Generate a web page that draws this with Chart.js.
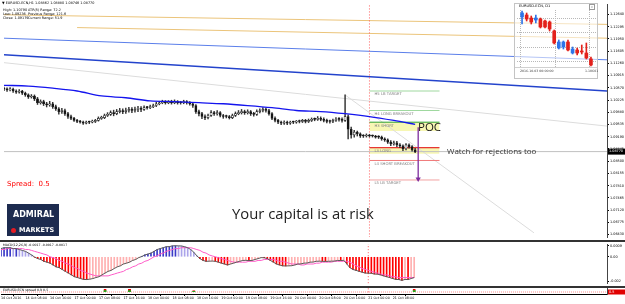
<!DOCTYPE html>
<html>
<head>
<meta charset="utf-8">
<script src="https://cdn.jsdelivr.net/npm/chart.js@4.4.1/dist/chart.umd.min.js"></script>
<style>
  body { margin:0; width:625px; height:304px; overflow:hidden; background:#fff; position:relative; font-family:"DejaVu Sans", sans-serif; }
  canvas, .t, .box { position:absolute; }
  .t { white-space:nowrap; line-height:1; color:#000; }
</style>
</head>
<body>
<canvas id="main" width="625" height="241" style="left:0;top:0"></canvas>
<canvas id="macd" width="625" height="46" style="left:0;top:241px"></canvas>
<canvas id="spread" width="625" height="17" style="left:0;top:287px"></canvas>
<div class="box" style="left:0;top:240px;width:625px;height:2px;background:#333"></div>
<div class="box" style="left:0;top:286px;width:625px;height:1.5px;background:#333"></div>

<!-- D1 mini window -->
<div class="box" style="left:514px;top:3px;width:82px;height:74px;border:1px solid #c4c4c4;background:rgba(255,255,255,0.55)"></div>
<div class="box" style="left:515px;top:67px;width:82px;height:1px;background:#d0d0d0"></div>
<canvas id="inset" width="79" height="57" style="left:517px;top:10px"></canvas>
<div class="t" style="left:519px;top:4.5px;font-size:3.6px">EURUSD-ECN, D1</div>
<div class="box" style="left:589px;top:4px;width:4px;height:4px;border:0.5px solid #999;font-size:3px;line-height:4px;text-align:center;color:#666">x</div>
<div class="t" style="left:520px;top:70px;font-size:3.2px;color:#444">2016.10.03 00:00:00</div>
<div class="t" style="left:585px;top:70px;font-size:3.2px;color:#444">1.10601</div>

<!-- header -->
<div class="t" style="left:2px;top:2px;font-size:3.4px">&#9660; EURUSD-ECN,H1 1.08862 1.08880 1.08746 1.08770</div>
<div class="t" style="left:3px;top:9px;font-size:3.4px">High: 1.10790</div>
<div class="t" style="left:28px;top:9px;font-size:3.4px">ATR(5) Range: 72.2</div>
<div class="t" style="left:3px;top:13px;font-size:3.4px">Low: 1.09236</div>
<div class="t" style="left:28px;top:13px;font-size:3.4px">Previous Range: 121.6</div>
<div class="t" style="left:3px;top:17px;font-size:3.4px">Close: 1.09179</div>
<div class="t" style="left:28px;top:17px;font-size:3.4px">Current Range: 51.9</div>

<div class="t" style="left:418px;top:121px;font-size:11.5px;font-family:'Open Sans';color:#1a1a1a">POC</div>
<div class="t" style="left:447px;top:147px;font-size:8px;font-family:'Open Sans';color:#333">Watch for rejections too</div>
<div class="t" style="left:232px;top:206px;font-size:14.8px;font-family:'Open Sans';color:#222">Your capital is at risk</div>
<div class="t" style="left:7px;top:181px;font-size:7px;color:#f00">Spread:&nbsp; 0.5</div>

<div class="box" style="left:7px;top:204px;width:52px;height:32px;background:#1d2b4f"></div>
<div class="t" style="left:13px;top:211px;font-size:8px;font-weight:bold;color:#fff">ADMIRAL</div>
<div class="box" style="left:11px;top:228px;width:5px;height:5px;border-radius:50%;background:#e31b23"></div>
<div class="t" style="left:19px;top:227px;font-size:6.5px;font-weight:bold;color:#fff">MARKETS</div>

<div class="t" style="left:3px;top:243.5px;font-size:3.2px">MACD(12,26,9) -0.0017 -0.0017 -0.0017</div>
<div class="t" style="left:3px;top:288.5px;font-size:3.2px">EURUSD-ECN spread 0.9 0.5</div>

<script>
// price scale labels (right axis)
const priceTicks = [1.12640, 1.12295, 1.11950, 1.11605, 1.11260, 1.10915, 1.10570, 1.10225, 1.09880,
  1.09535, 1.09190, 1.08845, 1.08500, 1.08155, 1.07810, 1.07465, 1.07120, 1.06775, 1.06430];

// time axis
const timeLabels = ['14 Oct 2016', '14 Oct 08:00', '14 Oct 16:00', '17 Oct 00:00', '17 Oct 08:00', '17 Oct 16:00',
  '18 Oct 00:00', '18 Oct 08:00', '18 Oct 16:00', '19 Oct 00:00', '19 Oct 08:00', '19 Oct 16:00',
  '20 Oct 00:00', '20 Oct 08:00', '20 Oct 16:00', '21 Oct 00:00', '21 Oct 08:00'];
const timeTickIdx = [0, 8, 16, 24, 32, 40, 48, 56, 64, 72, 80, 88, 96, 104, 112, 120, 128];
const lastSlot = 198;   // empty space to the right of the last bar
const daySep = 120;     // 21 Oct 00:00

// H1 candles
const firstOpen = 1.1055;
const closes = [
  1.1053, 1.1051, 1.1053, 1.1048, 1.1045, 1.1048, 1.1042, 1.1037,
  1.1031, 1.1034, 1.1026, 1.1015, 1.1018, 1.1012, 1.1009, 1.1012,
  1.1004, 1.0998, 1.0990, 1.0993, 1.0984, 1.0976, 1.0971, 1.0965,
  1.0962, 1.0960, 1.0957, 1.0960, 1.0960, 1.0962, 1.0965, 1.0971,
  1.0973, 1.0979, 1.0982, 1.0987, 1.0984, 1.0990, 1.0993, 1.0990,
  1.0993, 1.0996, 1.0993, 1.0996, 1.0998, 1.0996, 1.1001, 1.1001,
  1.1004, 1.1007, 1.1012, 1.1015, 1.1018, 1.1015, 1.1018, 1.1015,
  1.1018, 1.1015, 1.1015, 1.1018, 1.1015, 1.1012, 1.1007, 1.0990,
  1.0984, 1.0976, 1.0973, 1.0979, 1.0987, 1.0984, 1.0987, 1.0979,
  1.0976, 1.0976, 1.0973, 1.0979, 1.0984, 1.0987, 1.0990, 1.0987,
  1.0990, 1.0984, 1.0982, 1.0990, 1.0993, 1.0996, 1.0993, 1.0984,
  1.0971, 1.0965, 1.0960, 1.0957, 1.0960, 1.0957, 1.0960, 1.0960,
  1.0962, 1.0962, 1.0965, 1.0962, 1.0965, 1.0968, 1.0968, 1.0971,
  1.0968, 1.0965, 1.0962, 1.0962, 1.0965, 1.0968, 1.0968, 1.0965,
  1.0976, 1.0940, 1.0924, 1.0932, 1.0927, 1.0921, 1.0921, 1.0924,
  1.0921, 1.0921, 1.0918, 1.0918, 1.0913, 1.0910, 1.0904, 1.0899,
  1.0902, 1.0896, 1.0893, 1.0885, 1.0896, 1.0891, 1.0882, 1.0877];
const highs = [
  1.1059, 1.1057, 1.1058, 1.1056, 1.1051, 1.1052, 1.1050, 1.1045,
  1.1040, 1.1038, 1.1037, 1.1030, 1.1023, 1.1022, 1.1016, 1.1019,
  1.1016, 1.1008, 1.1001, 1.0999, 1.0997, 1.0988, 1.0980, 1.0974,
  1.0968, 1.0965, 1.0963, 1.0963, 1.0963, 1.0966, 1.0968, 1.0975,
  1.0977, 1.0983, 1.0987, 1.0992, 1.0994, 1.0996, 1.0999, 1.0998,
  1.1000, 1.1002, 1.1001, 1.1003, 1.1005, 1.1004, 1.1006, 1.1005,
  1.1008, 1.1011, 1.1016, 1.1019, 1.1022, 1.1021, 1.1021, 1.1022,
  1.1023, 1.1021, 1.1019, 1.1022, 1.1021, 1.1018, 1.1015, 1.1010,
  1.0994, 1.0988, 1.0981, 1.0983, 1.0993, 1.0991, 1.0993, 1.0990,
  1.0982, 1.0980, 1.0979, 1.0983, 1.0989, 1.0993, 1.0996, 1.0994,
  1.0995, 1.0993, 1.0988, 1.0995, 1.0998, 1.1001, 1.1000, 1.0996,
  1.0987, 1.0975, 1.0968, 1.0963, 1.0964, 1.0963, 1.0963, 1.0963,
  1.0965, 1.0966, 1.0968, 1.0968, 1.0969, 1.0972, 1.0972, 1.0976,
  1.0975, 1.0972, 1.0969, 1.0966, 1.0969, 1.0973, 1.0973, 1.0972,
  1.1037, 1.0981, 1.0946, 1.0937, 1.0935, 1.0930, 1.0925, 1.0927,
  1.0926, 1.0924, 1.0923, 1.0922, 1.0921, 1.0916, 1.0913, 1.0908,
  1.0907, 1.0906, 1.0900, 1.0896, 1.0900, 1.0899, 1.0894, 1.0886];
const lows = [
  1.1049, 1.1047, 1.1048, 1.1044, 1.1041, 1.1042, 1.1038, 1.1033,
  1.1027, 1.1028, 1.1021, 1.1010, 1.1011, 1.1007, 1.1003, 1.1005,
  1.0999, 1.0993, 1.0983, 1.0985, 1.0979, 1.0971, 1.0967, 1.0962,
  1.0959, 1.0957, 1.0954, 1.0955, 1.0956, 1.0958, 1.0959, 1.0963,
  1.0968, 1.0970, 1.0976, 1.0979, 1.0978, 1.0981, 1.0986, 1.0984,
  1.0985, 1.0988, 1.0987, 1.0988, 1.0990, 1.0990, 1.0993, 1.0997,
  1.0998, 1.1001, 1.1004, 1.1009, 1.1012, 1.1011, 1.1012, 1.1011,
  1.1012, 1.1011, 1.1011, 1.1012, 1.1011, 1.1008, 1.1002, 1.0985,
  1.0978, 1.0970, 1.0967, 1.0969, 1.0976, 1.0979, 1.0980, 1.0975,
  1.0971, 1.0972, 1.0969, 1.0970, 1.0976, 1.0981, 1.0983, 1.0982,
  1.0983, 1.0979, 1.0977, 1.0979, 1.0986, 1.0989, 1.0988, 1.0980,
  1.0967, 1.0961, 1.0956, 1.0953, 1.0954, 1.0953, 1.0954, 1.0956,
  1.0957, 1.0958, 1.0959, 1.0958, 1.0959, 1.0962, 1.0964, 1.0965,
  1.0964, 1.0961, 1.0958, 1.0957, 1.0959, 1.0962, 1.0963, 1.0960,
  1.0962, 1.0913, 1.0915, 1.0918, 1.0921, 1.0917, 1.0917, 1.0918,
  1.0918, 1.0918, 1.0915, 1.0914, 1.0909, 1.0906, 1.0900, 1.0894,
  1.0895, 1.0891, 1.0888, 1.0880, 1.0882, 1.0887, 1.0878, 1.0874];

// moving average over the candles
const maIdx = [0, 8, 16, 24, 32, 40, 48, 56, 64, 72, 80, 88, 96, 104, 112, 120, 128, 135];
const maVals = [1.1064, 1.1062, 1.1056, 1.1048, 1.1034, 1.1029, 1.1020, 1.1018, 1.1015,
  1.1012, 1.1007, 1.1001, 1.0993, 1.0990, 1.0984, 1.0976, 1.0965, 1.0954];

// trend lines drawn on the chart
const trendFrom = [0, 24, 0, 0, 0, 112];
const trendTo = [198, 198, 198, 198, 198, 174];
const trendStart = [1.1263, 1.1227, 1.1197, 1.1150, 1.1128, 1.1037];
const trendEnd = [1.1236, 1.1197, 1.1136, 1.1048, 1.0949, 1.0648];
const trendColors = ['#ebc47a', '#ebc47a', '#5b7fea', '#2343cc', '#dcdcdc', '#dcdcdc'];
const trendWidths = [1, 1, 1, 1.5, 1, 1];

// daily levels
const pivotNames = ['H5 LB TARGET', 'H4 LONG BREAKOUT', 'H3 SHORT', 'L3 LONG', 'L4 SHORT BREAKOUT', 'L5 LB TARGET'];
const pivotVals = [1.1048, 1.0993, 1.0960, 1.0888, 1.0852, 1.0797];
const pivotColors = ['#9fd89f', '#9fd89f', '#2ca02c', '#e00000', '#f07a7a', '#f2a2a2'];
const pivotFrom = 120, pivotTo = 143;
const bandTop = [1.0960, 1.0888];
const bandBottom = [1.0935, 1.0871];
const pocValue = 1.0946, arrowTarget = 1.0800, arrowIdx = 136;

// MACD(12,26,9)
const macd = [
  0.00067, 0.00074, 0.00074, 0.00074, 0.00067, 0.00067, 0.00059, 0.00052,
  0.00044, 0.00030, 0.00015, -0.00003, -0.00015, -0.00022, -0.00037, -0.00044,
  -0.00052, -0.00067, -0.00082, -0.00089, -0.00104, -0.00119, -0.00133, -0.00148,
  -0.00163, -0.00170, -0.00178, -0.00185, -0.00186, -0.00183, -0.00178, -0.00170,
  -0.00163, -0.00148, -0.00133, -0.00119, -0.00111, -0.00096, -0.00082, -0.00074,
  -0.00059, -0.00052, -0.00044, -0.00030, -0.00022, -0.00007, 0.00002, 0.00015,
  0.00022, 0.00030, 0.00044, 0.00059, 0.00067, 0.00074, 0.00082, 0.00083,
  0.00089, 0.00090, 0.00089, 0.00088, 0.00082, 0.00074, 0.00059, 0.00037,
  0.00007, -0.00015, -0.00030, -0.00037, -0.00036, -0.00035, -0.00037, -0.00044,
  -0.00052, -0.00059, -0.00067, -0.00059, -0.00052, -0.00044, -0.00037, -0.00030,
  -0.00029, -0.00031, -0.00030, -0.00022, -0.00015, -0.00007, -0.00008, -0.00015,
  -0.00030, -0.00044, -0.00059, -0.00067, -0.00074, -0.00075, -0.00074, -0.00073,
  -0.00067, -0.00059, -0.00058, -0.00052, -0.00051, -0.00044, -0.00043, -0.00037,
  -0.00036, -0.00037, -0.00038, -0.00037, -0.00036, -0.00035, -0.00030, -0.00031,
  -0.00029, -0.00059, -0.00089, -0.00104, -0.00111, -0.00119, -0.00126, -0.00133,
  -0.00134, -0.00135, -0.00141, -0.00142, -0.00148, -0.00156, -0.00163, -0.00170,
  -0.00178, -0.00185, -0.00186, -0.00193, -0.00185, -0.00186, -0.00178, -0.00170];
const signal = [
  0.00059, 0.00059, 0.00067, 0.00067, 0.00067, 0.00067, 0.00067, 0.00067,
  0.00059, 0.00059, 0.00052, 0.00044, 0.00037, 0.00030, 0.00022, 0.00015,
  0.00000, -0.00007, -0.00015, -0.00030, -0.00037, -0.00052, -0.00059, -0.00074,
  -0.00089, -0.00096, -0.00111, -0.00119, -0.00133, -0.00141, -0.00148, -0.00156,
  -0.00156, -0.00156, -0.00156, -0.00156, -0.00148, -0.00141, -0.00133, -0.00126,
  -0.00119, -0.00104, -0.00096, -0.00082, -0.00074, -0.00059, -0.00052, -0.00037,
  -0.00030, -0.00015, 0.00000, 0.00007, 0.00022, 0.00030, 0.00044, 0.00052,
  0.00059, 0.00067, 0.00067, 0.00074, 0.00074, 0.00074, 0.00074, 0.00067,
  0.00059, 0.00052, 0.00037, 0.00030, 0.00015, 0.00007, 0.00000, -0.00007,
  -0.00015, -0.00022, -0.00030, -0.00037, -0.00044, -0.00044, -0.00044, -0.00044,
  -0.00044, -0.00037, -0.00037, -0.00037, -0.00030, -0.00030, -0.00022, -0.00022,
  -0.00022, -0.00022, -0.00030, -0.00037, -0.00037, -0.00044, -0.00052, -0.00059,
  -0.00059, -0.00059, -0.00067, -0.00067, -0.00059, -0.00059, -0.00059, -0.00052,
  -0.00052, -0.00044, -0.00044, -0.00044, -0.00044, -0.00037, -0.00037, -0.00037,
  -0.00037, -0.00037, -0.00044, -0.00059, -0.00074, -0.00082, -0.00096, -0.00104,
  -0.00111, -0.00119, -0.00126, -0.00133, -0.00141, -0.00148, -0.00148, -0.00156,
  -0.00163, -0.00163, -0.00170, -0.00170, -0.00170, -0.00170, -0.00170, -0.00170];
const macdTicks = [0.0009, 0, -0.002];
const macdTickLabels = ['0.0009', '0.00', '-0.002'];

// spread window
const spreadNow = 0.5;
const spikeIdx = [34, 42, 63, 135];
const spikeMax = [0.9, 0.9, 0.7, 0.9];

// D1 window
const insetOpen = [1.1211, 1.1225, 1.1204, 1.1190, 1.1197, 1.1183, 1.1176, 1.1113, 1.0994, 1.1001, 1.1036, 1.0959, 1.0980, 1.0973, 1.0959, 1.0917];
const insetClose = [1.1239, 1.1197, 1.1176, 1.1204, 1.1141, 1.1141, 1.1127, 1.1029, 1.1036, 1.1036, 1.0980, 1.0987, 1.0959, 1.0966, 1.0924, 1.0875];
const insetHigh = [1.1253, 1.1239, 1.1218, 1.1225, 1.1204, 1.1190, 1.1183, 1.1120, 1.1050, 1.1043, 1.1050, 1.1001, 1.0994, 1.1015, 1.1029, 1.0931];
const insetLow = [1.1162, 1.1183, 1.1162, 1.1169, 1.1134, 1.1134, 1.1113, 1.1022, 1.0987, 1.0987, 1.0973, 1.0952, 1.0945, 1.0952, 1.0917, 1.0868];

Chart.defaults.font.family = 'DejaVu Sans';

const bid = closes[closes.length - 1];
const seg = (x0, y0, x1, y1) => [{ x: x0, y: y0 }, { x: x1, y: y1 }];
const line = (pts, color, width, extra) => Object.assign(
  { type: 'line', data: pts, borderColor: color, borderWidth: width, pointRadius: 0, fill: false, tension: 0 }, extra || {});

// value box at the right edge (bid price, spread)
const valueBox = {
  id: 'valueBox',
  afterDraw(chart, args, opts) {
    if (!opts.text) return;
    const c = chart.ctx;
    const y = chart.scales.y.getPixelForValue(opts.value);
    const x = chart.chartArea.right + 1;
    c.save();
    c.fillStyle = opts.bg;
    c.fillRect(x, y - opts.h / 2, 17, opts.h);
    c.fillStyle = '#fff';
    c.font = '3.4px "DejaVu Sans"';
    c.textBaseline = 'middle';
    c.fillText(opts.text, x + 1, y);
    c.restore();
  }
};

// names under the level lines
const pivotText = {
  id: 'pivotText',
  afterDatasetsDraw(chart) {
    const { ctx, scales: { x, y } } = chart;
    ctx.save();
    ctx.font = '3.8px "DejaVu Sans"';
    ctx.fillStyle = '#808080';
    ctx.textBaseline = 'top';
    pivotNames.forEach((name, i) => {
      ctx.fillText(name, x.getPixelForValue(pivotFrom) + 5, y.getPixelForValue(pivotVals[i]) + 1.5);
    });
    ctx.restore();
  }
};

const base = {
  responsive: false, animation: false, events: [], devicePixelRatio: 1
};
const xHidden = { type: 'linear', min: 0, max: lastSlot, display: false, offset: false };
const yRight = (min, max, extra) => Object.assign({
  position: 'right', min, max,
  afterFit: s => { s.width = 18; },
  grid: { drawOnChartArea: false, tickLength: 2, color: '#000' },
  border: { color: '#444' }
}, extra);

// ---------- main window ----------
const opens = closes.map((c, i) => i ? closes[i - 1] : firstOpen);
const bodies = closes.map((c, i) => ({ x: i, y: [opens[i], c] }));
const wicks = closes.map((c, i) => ({ x: i, y: [lows[i], highs[i]] }));
const bodyFill = closes.map((c, i) => c > opens[i] ? '#fff' : '#111');

const mainSets = [
  line(seg(arrowIdx, pocValue, arrowIdx, arrowTarget), '#7d2c9e', 1.3,
    { pointRadius: [0, 3], pointStyle: 'triangle', rotation: 180, pointBackgroundColor: '#7d2c9e', pointBorderWidth: 0 }),
  line(maIdx.map((x, i) => ({ x, y: maVals[i] })), '#1414ee', 1.3, { cubicInterpolationMode: 'monotone' }),
  { type: 'bar', data: bodies, backgroundColor: bodyFill, borderColor: '#222', borderWidth: 0.7,
    borderSkipped: false, barThickness: 2.2, minBarLength: 1, grouped: false },
  { type: 'bar', data: wicks, backgroundColor: '#333', barThickness: 0.8, grouped: false },
  ...pivotVals.map((v, i) => line(seg(pivotFrom, v, pivotTo, v), pivotColors[i], 1)),
  line(seg(daySep, 1.0, daySep, 1.2), '#ff5a5a', 1, { borderDash: [1, 2] }),
  line(seg(0, bid, lastSlot, bid), '#c0c0c0', 1),
  ...trendStart.map((v, i) => line(seg(trendFrom[i], v, trendTo[i], trendEnd[i]), trendColors[i], trendWidths[i])),
];
bandTop.forEach((v, i) => {
  mainSets.push(line(seg(pivotFrom, v, pivotTo, v), 'rgba(0,0,0,0)', 0, { fill: '+1', backgroundColor: '#f7f7b4' }));
  mainSets.push(line(seg(pivotFrom, bandBottom[i], pivotTo, bandBottom[i]), 'rgba(0,0,0,0)', 0));
});

new Chart(document.getElementById('main'), {
  type: 'bar',
  data: { datasets: mainSets },
  plugins: [valueBox, pivotText],
  options: Object.assign({}, base, {
    layout: { padding: { left: 1, top: 2, right: 0, bottom: 1 } },
    plugins: { legend: { display: false }, tooltip: { enabled: false },
      valueBox: { value: bid, text: bid.toFixed(5), bg: '#000', h: 6 } },
    scales: {
      x: xHidden,
      y: yRight(1.06361, 1.12935, {
        afterBuildTicks: s => { s.ticks = priceTicks.map(v => ({ value: v })); },
        ticks: { font: { size: 3.4 }, color: '#000', padding: 1, autoSkip: false, callback: v => v.toFixed(5) }
      })
    }
  })
});

// ---------- MACD window ----------
const macdColors = macd.map((v, i) => {
  const up = i === 0 || v >= macd[i - 1];
  if (v >= 0) return up ? '#3a3ac8' : '#aba4ea';
  return up ? '#ffb0b0' : '#ff0000';
});
new Chart(document.getElementById('macd'), {
  type: 'bar',
  data: { datasets: [
    line(macd.map((y, x) => ({ x, y })), '#5a5a5a', 1),
    line(signal.map((y, x) => ({ x, y })), '#ff5cc8', 1),
    { type: 'bar', data: macd.map((y, x) => ({ x, y })), backgroundColor: macdColors, barThickness: 1, grouped: false },
    line(seg(daySep, -1, daySep, 1), '#ff5a5a', 1, { borderDash: [1, 2] })
  ] },
  options: Object.assign({}, base, {
    layout: { padding: { left: 1, top: 1, right: 0, bottom: 1 } },
    plugins: { legend: { display: false }, tooltip: { enabled: false } },
    scales: {
      x: xHidden,
      y: yRight(-0.00222, 0.00104, {
        afterBuildTicks: s => { s.ticks = macdTicks.map(v => ({ value: v })); },
        ticks: { font: { size: 3.4 }, color: '#000', padding: 1, autoSkip: false, callback: (v, i) => macdTickLabels[i] }
      })
    }
  })
});

// ---------- spread window + time axis ----------
new Chart(document.getElementById('spread'), {
  type: 'bar',
  data: { datasets: [
    { type: 'bar', data: spikeIdx.map((x, i) => ({ x, y: [spreadNow, spikeMax[i]] })), backgroundColor: '#22b022',
      borderColor: '#ee0000', borderWidth: { top: 1.5, bottom: 0, left: 0, right: 0 }, borderSkipped: false,
      barThickness: 3, grouped: false },
    line(seg(0, spreadNow, lastSlot, spreadNow), '#ff9090', 1, { borderDash: [1, 1] }),
    line(seg(daySep, 0, daySep, 2), '#ff5a5a', 1, { borderDash: [1, 2] })
  ] },
  plugins: [valueBox],
  options: Object.assign({}, base, {
    layout: { padding: { left: 1, top: 1, right: 0, bottom: 0 } },
    plugins: { legend: { display: false }, tooltip: { enabled: false },
      valueBox: { value: spreadNow, text: spreadNow.toFixed(1), bg: '#e00000', h: 5 } },
    scales: {
      x: {
        type: 'linear', min: 0, max: lastSlot, offset: false, position: 'bottom',
        afterFit: s => { s.height = 10; },
        afterBuildTicks: s => { s.ticks = timeTickIdx.map(v => ({ value: v })); },
        ticks: { font: { size: 3.3 }, color: '#000', padding: 0, align: 'start', maxRotation: 0, autoSkip: false,
          callback: (v, i) => timeLabels[i] },
        grid: { drawOnChartArea: false, tickLength: 2, color: '#000' },
        border: { color: '#000' }
      },
      y: yRight(0.2, 1.1, { ticks: { display: false }, grid: { display: false } })
    }
  })
});

// ---------- D1 mini chart ----------
const insetColors = insetClose.map((c, i) => c >= insetOpen[i] ? '#2f74e8' : '#e3211b');
new Chart(document.getElementById('inset'), {
  type: 'bar',
  data: { datasets: [
    { data: insetClose.map((c, i) => ({ x: i, y: [insetOpen[i], c] })), backgroundColor: insetColors,
      barThickness: 3, minBarLength: 1, grouped: false },
    { data: insetClose.map((c, i) => ({ x: i, y: [insetLow[i], insetHigh[i]] })), backgroundColor: insetColors,
      barThickness: 1, grouped: false }
  ] },
  options: Object.assign({}, base, {
    layout: { padding: 0 },
    plugins: { legend: { display: false }, tooltip: { enabled: false } },
    scales: {
      x: { type: 'linear', min: -1.1, max: 16.1, offset: false,
        afterBuildTicks: s => { s.ticks = [{ value: 3.5 }, { value: 11 }]; },
        afterFit: s => { s.height = 0; },
        ticks: { display: false }, grid: { color: '#b8b8b8', drawTicks: false }, border: { display: false, dash: [1, 1] } },
      y: { min: 1.0861, max: 1.1260,
        afterBuildTicks: s => { s.ticks = [1.12, 1.11, 1.10, 1.09].map(v => ({ value: v })); },
        afterFit: s => { s.width = 0; },
        ticks: { display: false }, grid: { color: '#b8b8b8', drawTicks: false }, border: { display: false, dash: [1, 1] } }
    }
  })
});
</script>
</body>
</html>
